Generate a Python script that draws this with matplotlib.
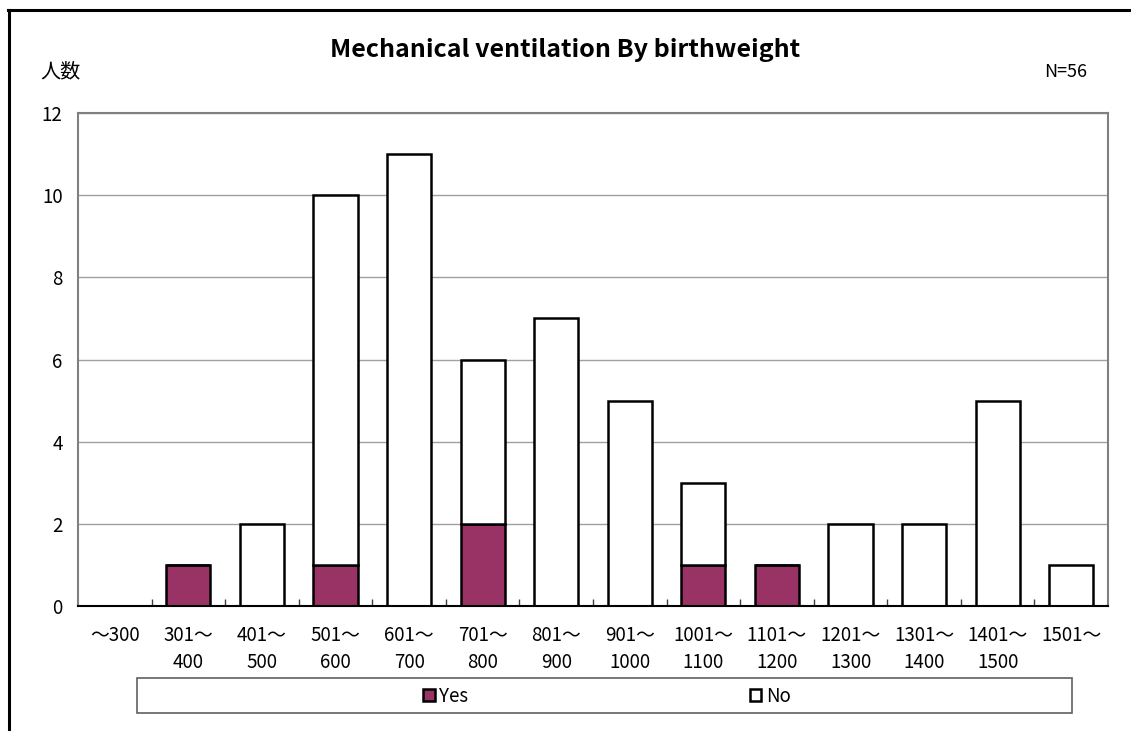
import matplotlib
matplotlib.use("Agg")
import matplotlib.pyplot as plt
from matplotlib.patches import Rectangle
from matplotlib.lines import Line2D
import numpy as np

plt.rcParams['font.family'] = ['Noto Sans CJK JP', 'DejaVu Sans']

categories = ["～300", "301～\n400", "401～\n500", "501～\n600", "601～\n700", "701～\n800",
              "801～\n900", "901～\n1000", "1001～\n1100", "1101～\n1200", "1201～\n1300",
              "1301～\n1400", "1401～\n1500", "1501～"]
yes_vals = [0, 1, 0, 1, 0, 2, 0, 0, 1, 1, 0, 0, 0, 0]
no_vals = [0, 0, 2, 9, 11, 4, 7, 5, 2, 0, 2, 2, 5, 1]
series_names = ["Yes", "No"]
title = "Mechanical ventilation By birthweight"
ylabel = "人数"
n_note = "N=56"

W, H = 1131, 731
fig = plt.figure(figsize=(W / 100, H / 100), dpi=100)
fig.patch.set_facecolor("white")

ax = fig.add_axes([78 / W, 1 - 606 / H, (1108 - 78) / W, (606 - 113) / H])
x = np.arange(len(categories))
yes_color = "#993366"
ax.bar(x, yes_vals, width=0.6, color=yes_color, edgecolor="black", linewidth=1.8,
       label=series_names[0], zorder=3)
ax.bar(x, no_vals, width=0.6, bottom=yes_vals, color="white", edgecolor="black",
       linewidth=1.8, label=series_names[1], zorder=3)

ax.set_xlim(-0.5, len(categories) - 0.5)
ax.set_ylim(0, 12)
ax.set_yticks(np.arange(0, 13, 2))
ax.yaxis.grid(True, color="#a0a0a0", linewidth=1.0, zorder=0)
ax.set_axisbelow(True)
for s in ["left", "top", "right"]:
    ax.spines[s].set_color("#808080")
    ax.spines[s].set_linewidth(1.5)
ax.spines["bottom"].set_color("black")
ax.spines["bottom"].set_linewidth(1.5)
ax.spines["bottom"].set_zorder(4)

ax.set_xticks(x)
ax.set_xticklabels(categories, fontsize=13.5, linespacing=1.35, va="top")
ax.tick_params(axis="x", which="major", length=0, pad=14)
ax.set_xticks(np.arange(0.5, len(categories) - 1, 1), minor=True)
ax.tick_params(axis="x", which="minor", direction="in", length=5, width=1, color="#404040")
ax.tick_params(axis="y", length=0, labelsize=13.5, pad=11)

fig.text(565 / W, 1 - 50 / H, title, ha="center", va="center", fontsize=18, fontweight="bold")
fig.text(40 / W, 1 - 72 / H, ylabel, ha="left", va="center", fontsize=14.5)
fig.text(1087 / W, 1 - 72 / H, n_note, ha="right", va="center", fontsize=13)

# legend box
fig.patches.append(Rectangle((137 / W, 1 - 713 / H), (1072 - 137) / W, (713 - 678) / H,
                             transform=fig.transFigure, facecolor="white",
                             edgecolor="#606060", linewidth=1.2, zorder=1))
handles, labels = ax.get_legend_handles_labels()
leg = fig.legend(handles, labels, loc="center", bbox_to_anchor=(607 / W, 1 - 696 / H),
                 ncol=2, frameon=False, fontsize=13.5, handlelength=0.6, handleheight=0.6,
                 handletextpad=0.25, columnspacing=15.0)
leg.set_zorder(2)

# outer frame (left and top)
fig.add_artist(Line2D([9 / W, 9 / W], [0, 1 - 10 / H], transform=fig.transFigure,
                      color="black", linewidth=2.2))
fig.add_artist(Line2D([8 / W, 1], [1 - 10 / H, 1 - 10 / H], transform=fig.transFigure,
                      color="black", linewidth=2.2))

fig.savefig("out.png", dpi=100)
